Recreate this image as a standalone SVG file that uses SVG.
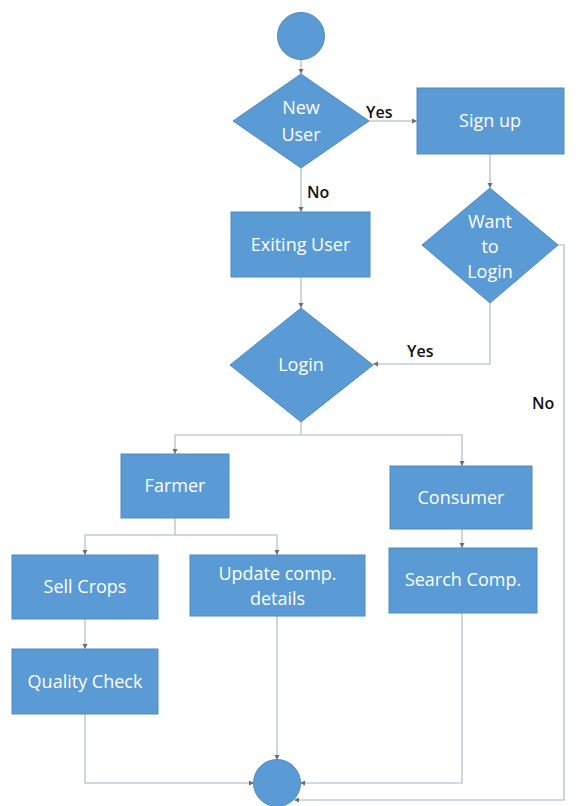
<svg xmlns="http://www.w3.org/2000/svg" width="579" height="806" viewBox="0 0 579 806">
<style>
.n{fill:#5b9bd5;stroke:#4f8ac4;stroke-width:1}
.t{font-family:"Open Sans","Liberation Sans",sans-serif;font-size:18px;fill:#ffffff;text-anchor:middle}
.l{font-family:"Open Sans","Liberation Sans",sans-serif;font-size:16px;fill:#111111;font-weight:600}
.c{fill:none;stroke:#c4cbd5;stroke-width:1.6}
</style>
<defs>
<marker id="a" markerWidth="6" markerHeight="6" refX="5" refY="3" orient="auto" markerUnits="userSpaceOnUse">
<path d="M0,0.5 L5,3 L0,5.5 Z" fill="#6b6f75"/>
</marker>
</defs>
<rect width="579" height="806" fill="#ffffff"/>
<g id="connectors">
<path class="c" d="M301,59 V74" marker-end="url(#a)"/>
<path class="c" d="M369,121 H417" marker-end="url(#a)"/>
<path class="c" d="M301,168 V212" marker-end="url(#a)"/>
<path class="c" d="M490,154 V188" marker-end="url(#a)"/>
<path class="c" d="M301,277 V308" marker-end="url(#a)"/>
<path class="c" d="M490,303 V364 H373" marker-end="url(#a)"/>
<path class="c" d="M558,245 H564 V800 H294" marker-end="url(#a)"/>
<path class="c" d="M301,422 V435 H175 V454" marker-end="url(#a)"/>
<path class="c" d="M301,435 H462 V466" marker-end="url(#a)"/>
<path class="c" d="M175,518 V535 H85 V555" marker-end="url(#a)"/>
<path class="c" d="M175,535 H277 V555" marker-end="url(#a)"/>
<path class="c" d="M462,529 V548" marker-end="url(#a)"/>
<path class="c" d="M85,619 V649" marker-end="url(#a)"/>
<path class="c" d="M85,714 V783 H254" marker-end="url(#a)"/>
<path class="c" d="M277,616 V760" marker-end="url(#a)"/>
<path class="c" d="M462,613 V783 H300" marker-end="url(#a)"/>
<text class="l" x="366" y="118">Yes</text>
<text class="l" x="307" y="198">No</text>
<text class="l" x="407" y="357">Yes</text>
<text class="l" x="532" y="409">No</text>
</g>
<g id="start"><circle class="n" cx="301" cy="36" r="23.5"/></g>
<g id="new-user">
<polygon class="n" points="301,74 369,121 301,168 233,121"/>
<text class="t" x="301" y="114">New</text>
<text class="t" x="301" y="141">User</text>
</g>
<g id="sign-up">
<rect class="n" x="417" y="88" width="147" height="66"/>
<text class="t" x="490" y="127">Sign up</text>
</g>
<g id="exiting-user">
<rect class="n" x="231" y="212" width="139" height="65"/>
<text class="t" x="300.5" y="251">Exiting User</text>
</g>
<g id="want-to-login">
<polygon class="n" points="490,188 558,245 490,303 422,245"/>
<text class="t" x="490" y="228">Want</text>
<text class="t" x="490" y="253">to</text>
<text class="t" x="490" y="278">Login</text>
</g>
<g id="login">
<polygon class="n" points="301,308 373,365 301,422 230,365"/>
<text class="t" x="301" y="371">Login</text>
</g>
<g id="farmer">
<rect class="n" x="121" y="454" width="108" height="64"/>
<text class="t" x="175" y="492">Farmer</text>
</g>
<g id="consumer">
<rect class="n" x="390" y="466" width="142" height="63"/>
<text class="t" x="461" y="504">Consumer</text>
</g>
<g id="sell-crops">
<rect class="n" x="12" y="555" width="146" height="64"/>
<text class="t" x="85" y="593">Sell Crops</text>
</g>
<g id="update-comp">
<rect class="n" x="190" y="555" width="175" height="61"/>
<text class="t" x="277.5" y="580">Update comp.</text>
<text class="t" x="277.5" y="605">details</text>
</g>
<g id="search-comp">
<rect class="n" x="389" y="548" width="148" height="65"/>
<text class="t" x="463" y="586">Search Comp.</text>
</g>
<g id="quality-check">
<rect class="n" x="12" y="649" width="146" height="65"/>
<text class="t" x="85" y="688">Quality Check</text>
</g>
<g id="end"><circle class="n" cx="277" cy="783" r="23.5"/></g>
</svg>
